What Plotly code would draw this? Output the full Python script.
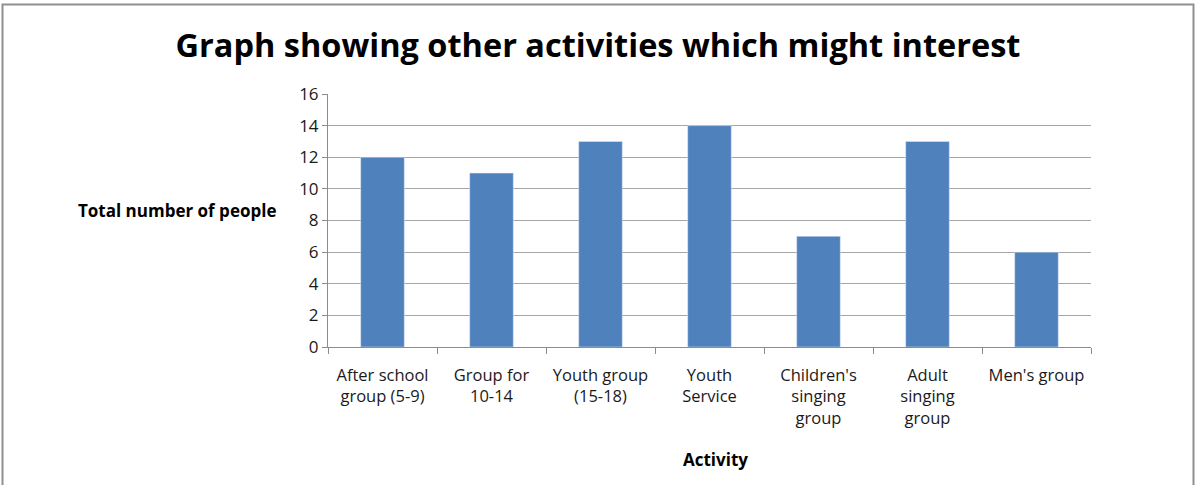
import plotly.graph_objects as go

categories = ["After school<br>group (5-9)", "Group for<br>10-14", "Youth group<br>(15-18)",
              "Youth<br>Service", "Children's<br>singing<br>group", "Adult<br>singing<br>group",
              "Men's group"]
values = [12, 11, 13, 14, 7, 13, 6]
y_ticks = [0, 2, 4, 6, 8, 10, 12, 14, 16]

W, H = 1197, 485
L, R, T, B = 328, 106, 94, 138
pw, ph = W - L - R, H - T - B

def px(x):
    return (x - L) / pw

def py(y):
    return (H - B - y) / ph

font = "Open Sans"

fig = go.Figure(go.Bar(x=categories, y=values, marker_color="#4F81BD", width=0.4))

fig.update_layout(
    width=W, height=H,
    margin=dict(l=L, r=R, t=T, b=B, autoexpand=False),
    paper_bgcolor="white", plot_bgcolor="white",
    showlegend=False,
    font=dict(family=font, color="#1a1a1a", size=16),
    title=dict(text="<b>Graph showing other activities which might interest</b>",
               x=px(598), xref="paper", xanchor="center", y=1 - 46 / H, yanchor="middle",
               font=dict(family=font, size=32.5, color="black")),
)
fig.update_xaxes(
    type="category", showline=True, linecolor="#8c8c8c", linewidth=1,
    ticks="outside", tickson="boundaries", ticklen=6, tickcolor="#8c8c8c",
    showgrid=False, tickfont=dict(size=16.5), fixedrange=True,
    ticklabelstandoff=13,
)
fig.update_yaxes(
    range=[0, 16], tickvals=y_ticks, showline=True, linecolor="#8c8c8c", linewidth=1,
    ticks="outside", ticklen=5, tickcolor="#8c8c8c",
    showgrid=True, gridcolor="#a6a6a6", gridwidth=1, zeroline=False,
    tickfont=dict(size=17), fixedrange=True,
)

fig.add_annotation(text="<b>Total number of people</b>", xref="paper", yref="paper",
                   x=px(177), y=py(210), showarrow=False, xanchor="center", yanchor="middle",
                   font=dict(family=font, size=17, color="black"))
fig.add_annotation(text="<b>Activity</b>", xref="paper", yref="paper",
                   x=px(715), y=py(459), showarrow=False, xanchor="center", yanchor="middle",
                   font=dict(family=font, size=17, color="black"))

fig.add_shape(type="rect", xref="paper", yref="paper",
              x0=px(2.5), x1=px(1193.5), y0=py(4.5), y1=py(495),
              line=dict(color="#8f8f8f", width=2), fillcolor="rgba(0,0,0,0)", layer="above")

fig.write_html("out.html", config={"displayModeBar": False},
               post_script="document.body.style.margin='0';")
